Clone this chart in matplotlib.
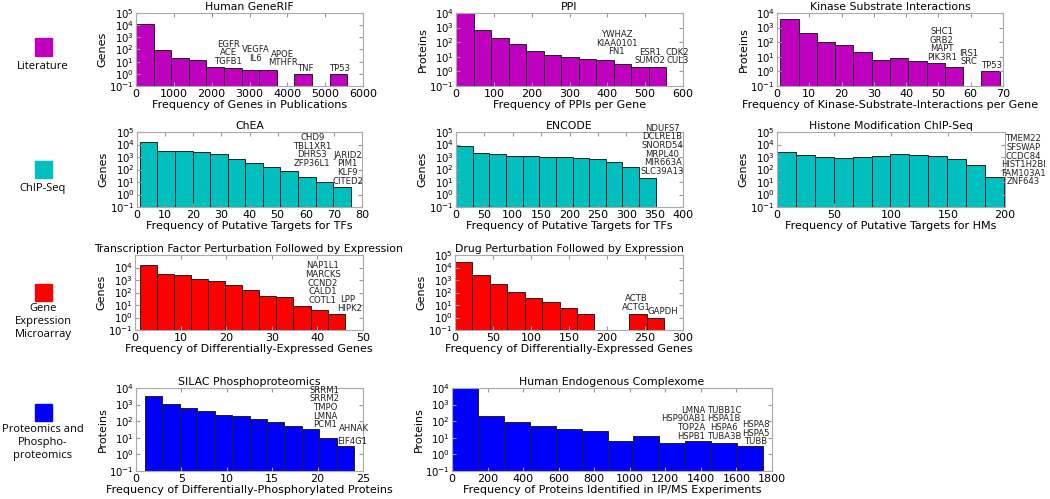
import numpy as np
import matplotlib.pyplot as plt
from matplotlib.patches import Rectangle

# comptages par classe (échelle log)
generif_range = (0, 5580)
generif_counts = [13000, 90, 22, 14, 4, 3, 2, 2, 0, 1, 0, 1]
ppi_range = (0, 556)
ppi_counts = [9500, 650, 190, 75, 27, 13, 10, 7, 6, 3, 2, 2]
kinase_range = (1, 69)
kinase_counts = [4000, 450, 110, 60, 20, 6, 8, 5, 4, 2, 0, 1]

chea_range = (1, 76)
chea_counts = [15000, 3300, 3000, 2500, 1800, 700, 340, 150, 70, 26, 10, 4]
encode_range = (0, 352)
encode_counts = [7400, 2100, 1600, 1300, 1300, 1050, 1000, 900, 700, 400, 160, 21]
histone_range = (0, 199)
histone_counts = [2600, 1400, 1000, 900, 1050, 1250, 1600, 1450, 1300, 700, 230, 26]

tfpert_range = (1, 46)
tfpert_counts = [15000, 3100, 2300, 1250, 800, 400, 160, 50, 40, 9, 4, 2]
drug_range = (0, 275)
drug_counts = [30000, 2600, 500, 120, 38, 18, 6, 2, 0, 0, 2, 1]

silac_range = (1, 24)
silac_counts = [3300, 1150, 630, 440, 250, 220, 145, 90, 50, 32, 10, 3]
complexome_range = (0, 1750)
complexome_counts = [9500, 200, 85, 55, 35, 24, 6, 13, 5, 6, 5, 3]

row_names = ["Literature", "ChIP-Seq", "Gene\nExpression\nMicroarray",
             "Proteomics and\nPhospho-\nproteomics"]
row_colors = [(0.75, 0, 0.75), (0, 0.75, 0.75), (1, 0, 0), (0, 0, 1)]

W, H = 1050, 499
fig = plt.figure(figsize=(W / 100, H / 100), dpi=100)
plt.rcParams['font.family'] = 'DejaVu Sans'


def panel(box, rng, counts, color, title, xlabel, ylabel, ytop, xmax, xstep,
          notes, hide_top=False):
    x0, y0, x1, y1 = box
    ax = fig.add_axes([x0 / W, 1 - y1 / H, (x1 - x0) / W, (y1 - y0) / H])
    counts = np.array(counts, dtype=float)
    edges = np.linspace(rng[0], rng[1], len(counts) + 1)
    keep = counts > 0
    ax.bar(edges[:-1][keep], counts[keep], width=np.diff(edges)[keep],
           align='edge', color=color, edgecolor='#222222', linewidth=0.7,
           log=True)
    ax.set_yscale('log')
    ax.set_ylim(0.1, ytop)
    ax.set_xlim(0, xmax)
    ax.set_xticks(np.arange(0, xmax + xstep / 2, xstep))
    yt = [10.0 ** k for k in range(-1, int(round(np.log10(ytop))) + 1)]
    if hide_top:
        yt = yt[:-1]
    ax.set_yticks(yt)
    ax.minorticks_off()
    ax.tick_params(labelsize=8, direction='in', top=True, right=True,
                   color='#999999', length=3, pad=2)
    ax.tick_params(axis='y', labelsize=7.3, pad=1.5)
    for s in ax.spines.values():
        s.set_color('#aaaaaa')
        s.set_linewidth(0.8)
    ax.set_title(title, fontsize=7.8, pad=2)
    ax.set_xlabel(xlabel, fontsize=8, labelpad=1)
    ax.set_ylabel(ylabel, fontsize=8, labelpad=1)
    for x, y, txt, ha in notes:
        ax.text(x, y, txt, fontsize=6.1, ha=ha, va='bottom', linespacing=0.95,
                color='#222222', clip_on=False)
    return ax


mag, cya, red, blu = row_colors

panel((136, 13, 363, 86), generif_range, generif_counts, mag, "Human GeneRIF",
      "Frequency of Genes in Publications", "Genes", 1e5, 6000, 1000,
      [(2440, 4.5, "EGFR\nACE\nTGFB1", 'center'),
       (3170, 8, "VEGFA\nIL6", 'center'),
       (3880, 3.5, "APOE\nMTHFR", 'center'),
       (4470, 1.2, "TNF", 'center'),
       (5390, 1.2, "TP53", 'center')])
panel((456, 13, 683, 86), ppi_range, ppi_counts, mag, "PPI",
      "Frequency of PPIs per Gene", "Proteins", 1e4, 600, 100,
      [(425, 11, "YWHAZ\nKIAA0101\nFN1", 'center'),
       (514, 2.6, "ESR1\nSUMO2", 'center'),
       (585, 2.6, "CDK2\nCUL3", 'center')])
panel((777, 13, 1003, 86), kinase_range, kinase_counts, mag,
      "Kinase Substrate Interactions",
      "Frequency of Kinase-Substrate-Interactions per Gene", "Proteins", 1e4,
      70, 10,
      [(51.0, 4.5, "SHC1\nGRB2\nMAPT\nPIK3R1", 'center'),
       (59.4, 2.2, "IRS1\nSRC", 'center'),
       (66.4, 1.2, "TP53", 'center')])

panel((137, 132, 362, 207), chea_range, chea_counts, cya, "ChEA",
      "Frequency of Putative Targets for TFs", "Genes", 1e5, 80, 10,
      [(62.3, 135, "CHD9\nTBL1XR1\nDHRS3\nZFP36L1", 'center'),
       (74.9, 5.2, "JARID2\nPIM1\nKLF9\nCITED2", 'center')])
panel((456, 132, 683, 207), encode_range, encode_counts, cya, "ENCODE",
      "Frequency of Putative Targets for TFs", "Genes", 1e5, 400, 50,
      [(364, 30, "NDUFS7\nDCLRE1B\nSNORD54\nMRPL40\nMIR663A\nSLC39A13",
        'center')])
panel((777, 132, 1005, 207), histone_range, histone_counts, cya,
      "Histone Modification ChIP-Seq",
      "Frequency of Putative Targets for HMs", "Genes", 1e5, 200, 50,
      [(216, 4.4, "TMEM22\nSFSWAP\nCCDC84\nHIST1H2BI\nFAM103A1\nZNF643",
        'center')])

panel((135, 255, 363, 330), tfpert_range, tfpert_counts, red,
      "Transcription Factor Perturbation Followed by Expression",
      "Frequency of Differentially-Expressed Genes", "Genes", 1e5, 50, 10,
      [(41.2, 10, "NAP1L1\nMARCKS\nCCND2\nCALD1\nCOTL1", 'center'),
       (46.6, 11, "LPP", 'center'),
       (47.0, 2.3, "HIPK2", 'center')], hide_top=True)
panel((455, 255, 683, 330), drug_range, drug_counts, red,
      "Drug Perturbation Followed by Expression",
      "Frequency of Differentially-Expressed Genes", "Genes", 1e5, 300, 50,
      [(239, 3, "ACTB\nACTG1", 'center'),
       (274, 1.4, "GAPDH", 'center')])

panel((136, 388, 363, 471), silac_range, silac_counts, blu,
      "SILAC Phosphoproteomics",
      "Frequency of Differentially-Phosphorylated Proteins", "Proteins", 1e4,
      25, 5,
      [(20.8, 33, "SRRM1\nSRRM2\nTMPO\nLMNA\nPCM1", 'center'),
       (24.0, 19, "AHNAK", 'center'),
       (23.8, 3.2, "EIF4G1", 'center')])
panel((452, 388, 772, 471), complexome_range, complexome_counts, blu,
      "Human Endogenous Complexome",
      "Frequency of Proteins Identified in IP/MS Experiments", "Proteins", 1e4,
      1800, 200,
      [(1425, 6.8, "LMNA\nHSP90AB1\nTOP2A\nHSPB1", 'right'),
       (1530, 6.8, "TUBB1C\nHSPA1B\nHSPA6\nTUBA3B", 'center'),
       (1708, 3, "HSPA8\nHSPA5\nTUBB", 'center')])

# légende des lignes (carrés colorés + nom)
square_y = [47, 169, 292, 412]
label_y = [61, 183, 303, 424]
for name, col, sy, ly in zip(row_names, row_colors, square_y, label_y):
    fig.add_artist(Rectangle(((43 - 8.5) / W, 1 - (sy + 8.5) / H), 17 / W,
                             17 / H, transform=fig.transFigure, color=col))
    fig.text(43 / W, 1 - ly / H, name, ha='center', va='top', fontsize=8,
             family='Open Sans', linespacing=1.25)

fig.savefig('out.png', dpi=100)
